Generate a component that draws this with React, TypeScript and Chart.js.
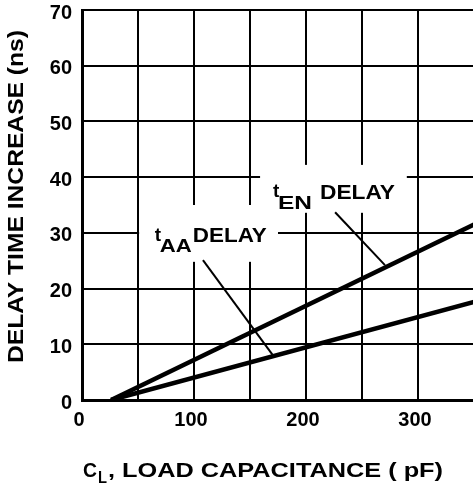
import React, { useEffect, useRef } from "react";
import { Chart, registerables } from "chart.js";

Chart.register(...registerables);

// Data
const capacitancePF = [26, 350];
const tEnDelayNs = [0, 31.5];
const tAaDelayNs = [0, 17.6];
const xTickLabels = [0, 100, 200, 300];
const yTicks = [0, 10, 20, 30, 40, 50, 60, 70];

// annotation anchors in data units (pF, ns)
const tEnLabel = [170.5, 36.0];
const tAaLabel = [65.0, 28.3];
const tEnLeader = [[226, 33.7], [270.5, 24.2]];
const tAaLeader = [[108, 25.1], [170.5, 8.0]];
const tEnMask = [[159, 42.2], [290, 33.6]];
const tAaMask = [[51, 35], [175, 24.8]];

const FONT = "'Liberation Sans', Arial, Helvetica, sans-serif";
const W = 480;
const H = 490;

function fitText(ctx: CanvasRenderingContext2D, text: string, x: number, y: number, width: number, font: string) {
  ctx.font = font;
  const w = ctx.measureText(text).width;
  ctx.save();
  ctx.translate(x, y);
  ctx.scale(width / w, 1);
  ctx.textAlign = "left";
  ctx.textBaseline = "alphabetic";
  ctx.fillText(text, 0, 0);
  ctx.restore();
}

const annotPlugin = {
  id: "annot",
  beforeDatasetsDraw(chart: any) {
    const ctx = chart.ctx as CanvasRenderingContext2D;
    const xs = chart.scales.x;
    const ys = chart.scales.y;
    ctx.save();
    ctx.fillStyle = "#fff";
    for (const m of [tEnMask, tAaMask]) {
      const x1 = xs.getPixelForValue(m[0][0]);
      const y1 = ys.getPixelForValue(m[0][1]);
      const x2 = xs.getPixelForValue(m[1][0]);
      const y2 = ys.getPixelForValue(m[1][1]);
      ctx.fillRect(x1, y1, x2 - x1, y2 - y1);
    }
    ctx.restore();
  },
  afterDatasetsDraw(chart: any) {
    const ctx = chart.ctx as CanvasRenderingContext2D;
    const xs = chart.scales.x;
    const ys = chart.scales.y;
    ctx.save();
    ctx.strokeStyle = "#000";
    ctx.lineWidth = 2;
    for (const l of [tEnLeader, tAaLeader]) {
      ctx.beginPath();
      ctx.moveTo(xs.getPixelForValue(l[0][0]), ys.getPixelForValue(l[0][1]));
      ctx.lineTo(xs.getPixelForValue(l[1][0]), ys.getPixelForValue(l[1][1]));
      ctx.stroke();
    }
    ctx.fillStyle = "#000";
    // tEN DELAY
    {
      const x = xs.getPixelForValue(tEnLabel[0]);
      const y = ys.getPixelForValue(tEnLabel[1]);
      ctx.font = `bold 19px ${FONT}`;
      ctx.textBaseline = "alphabetic";
      ctx.textAlign = "left";
      ctx.fillText("t", x, y - 2);
      fitText(ctx, "EN", x + 5, y + 10, 34, `bold 19px ${FONT}`);
      fitText(ctx, "DELAY", x + 47, y, 75, `bold 21px ${FONT}`);
    }
    // tAA DELAY
    {
      const x = xs.getPixelForValue(tAaLabel[0]);
      const y = ys.getPixelForValue(tAaLabel[1]);
      ctx.font = `bold 19px ${FONT}`;
      ctx.textBaseline = "alphabetic";
      ctx.textAlign = "left";
      ctx.fillText("t", x, y - 1);
      fitText(ctx, "AA", x + 5, y + 10, 32, `bold 19px ${FONT}`);
      fitText(ctx, "DELAY", x + 38, y, 74, `bold 21px ${FONT}`);
    }
    ctx.restore();
  },
  afterDraw(chart: any) {
    const ctx = chart.ctx as CanvasRenderingContext2D;
    const area = chart.chartArea;
    ctx.save();
    ctx.fillStyle = "#000";
    // y axis title
    ctx.save();
    ctx.translate(23, 363);
    ctx.rotate(-Math.PI / 2);
    fitText(ctx, "DELAY TIME INCREASE (ns)", 0, 0, 333, `bold 22px ${FONT}`);
    ctx.restore();
    // x axis title
    const x0 = area.left + 1;
    const base = 477;
    fitText(ctx, "C", x0, base, 14, `bold 21px ${FONT}`);
    fitText(ctx, "L", x0 + 15, base + 6, 9, `bold 16px ${FONT}`);
    fitText(ctx, ", LOAD CAPACITANCE ( pF)", x0 + 25, base, 335, `bold 21px ${FONT}`);
    ctx.restore();
  },
};

export default function App() {
  const ref = useRef<HTMLCanvasElement>(null);
  useEffect(() => {
    if (!ref.current) return;
    const chart = new Chart(ref.current, {
      type: "line",
      data: {
        datasets: [
          {
            label: "tEN DELAY",
            data: capacitancePF.map((c, i) => ({ x: c, y: tEnDelayNs[i] })),
            borderColor: "#000",
            borderWidth: 4.5,
            pointRadius: 0,
            fill: false,
          },
          {
            label: "tAA DELAY",
            data: capacitancePF.map((c, i) => ({ x: c, y: tAaDelayNs[i] })),
            borderColor: "#000",
            borderWidth: 4.5,
            pointRadius: 0,
            fill: false,
          },
        ],
      },
      options: {
        animation: false,
        responsive: false,
        devicePixelRatio: 1,
        layout: { padding: { top: 10, right: W - 474, left: 0, bottom: 0 } },
        plugins: {
          legend: { display: false },
          tooltip: { enabled: false },
          title: { display: false },
        },
        scales: {
          x: {
            type: "linear",
            min: 0,
            max: 350,
            afterBuildTicks(scale: any) {
              const t = [];
              for (let v = 0; v <= 350; v += 50) t.push({ value: v });
              scale.ticks = t;
            },
            afterFit(scale: any) {
              scale.height = 90;
              scale.paddingLeft = 0;
              scale.paddingRight = 0;
              scale.paddingTop = 0;
              scale.paddingBottom = 0;
            },
            grid: { color: "#000", lineWidth: 2, drawTicks: false },
            border: { display: true, color: "#000", width: 3 },
            ticks: {
              autoSkip: false,
              maxRotation: 0,
              padding: 8,
              labelOffset: -3,
              color: "#000",
              font: { family: FONT, size: 20, weight: "bold" },
              callback: (v: any) => (xTickLabels.includes(Number(v)) ? String(v) : ""),
            },
          },
          y: {
            type: "linear",
            min: 0,
            max: 70,
            afterBuildTicks(scale: any) {
              scale.ticks = yTicks.map((v) => ({ value: v }));
            },
            afterFit(scale: any) {
              scale.width = 82;
              scale.paddingLeft = 0;
              scale.paddingRight = 0;
              scale.paddingTop = 0;
              scale.paddingBottom = 0;
            },
            grid: { color: "#000", lineWidth: 2, drawTicks: false },
            border: { display: true, color: "#000", width: 3 },
            ticks: {
              padding: 10,
              labelOffset: 3,
              color: "#000",
              font: { family: FONT, size: 20, weight: "bold" },
            },
          },
        },
      },
      plugins: [annotPlugin],
    } as any);
    return () => chart.destroy();
  }, []);
  return (
    <div style={{ position: "fixed", left: 0, top: 0, width: 473, height: 490, overflow: "hidden", background: "#fff" }}>
      <canvas ref={ref} width={W} height={H} style={{ width: W, height: H, display: "block" }} />
    </div>
  );
}
